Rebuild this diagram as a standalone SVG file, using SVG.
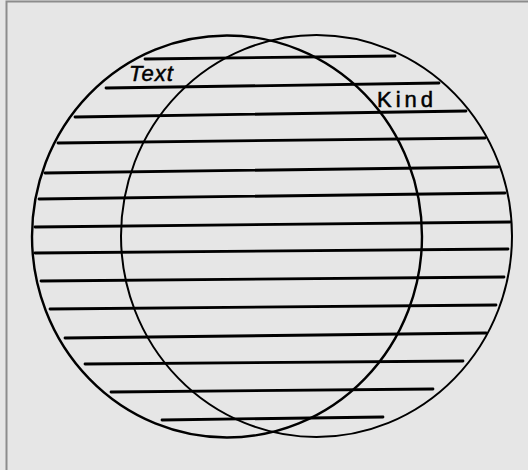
<svg xmlns="http://www.w3.org/2000/svg" width="528" height="470" viewBox="0 0 528 470">
  <style>
    .circ { fill: none; stroke: #000; stroke-width: 2.4; }
    .hatch { stroke: #000; stroke-width: 2.8; stroke-linecap: round; }
    .lbl { font-family: "Liberation Sans", Arial, sans-serif; fill: #000; stroke: #000; stroke-width: 0.5; }
  </style>
  <rect x="0" y="0" width="528" height="470" fill="#e6e6e6"/>
  <path d="M6.5 470 V1.5 H528" fill="none" stroke="#8c8c8c" stroke-width="2"/>
  <g id="connectors">
    <line class="hatch" x1="145" y1="59" x2="395" y2="56"/>
    <line class="hatch" x1="106" y1="88" x2="439" y2="83"/>
    <line class="hatch" x1="75" y1="117" x2="466" y2="111"/>
    <line class="hatch" x1="58" y1="143" x2="485" y2="138"/>
    <line class="hatch" x1="45" y1="173" x2="498" y2="167"/>
    <line class="hatch" x1="39" y1="199" x2="505" y2="193"/>
    <line class="hatch" x1="35" y1="227" x2="510" y2="222"/>
    <line class="hatch" x1="35" y1="253" x2="508" y2="249"/>
    <line class="hatch" x1="41" y1="281" x2="504" y2="277"/>
    <line class="hatch" x1="50" y1="309" x2="496" y2="305"/>
    <line class="hatch" x1="65" y1="338" x2="486" y2="333"/>
    <line class="hatch" x1="85" y1="364" x2="463" y2="361"/>
    <line class="hatch" x1="111" y1="392" x2="433" y2="389"/>
    <line class="hatch" x1="162" y1="420" x2="383" y2="417"/>
  </g>
  <g id="text-set">
    <ellipse class="circ" cx="227" cy="236.5" rx="195" ry="201"/>
    <text class="lbl" x="129" y="81" font-size="22" letter-spacing="1" style="font-style:italic">Text</text>
  </g>
  <g id="kind-set">
    <ellipse class="circ" cx="316.5" cy="236" rx="195.5" ry="201" style="stroke-width:2"/>
    <text class="lbl" x="377" y="107" font-size="22" letter-spacing="4" style="font-style:normal">Kind</text>
  </g>
</svg>
